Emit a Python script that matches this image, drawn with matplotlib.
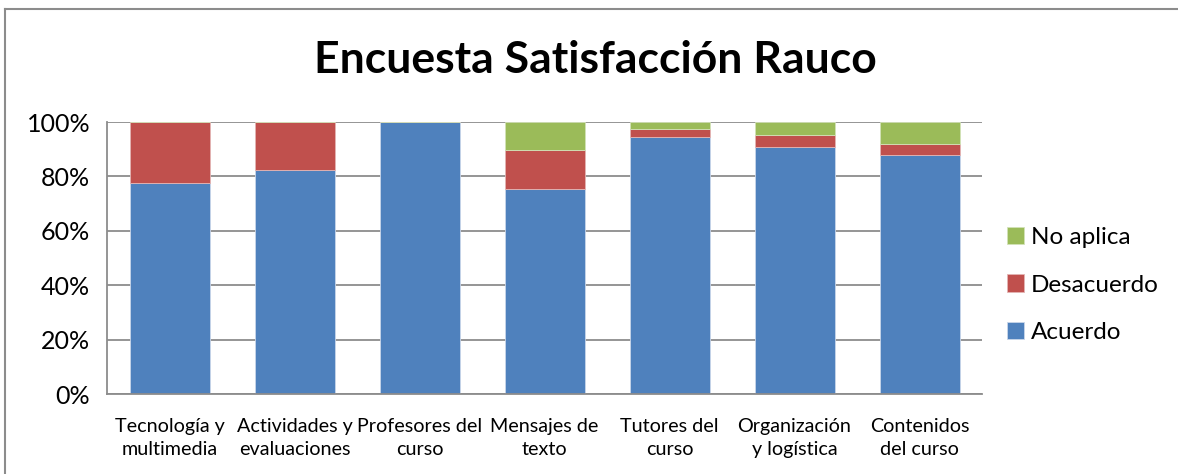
import matplotlib.pyplot as plt
import numpy as np
from matplotlib.lines import Line2D

categorias = ["Tecnología y\nmultimedia", "Actividades y\nevaluaciones", "Profesores del\ncurso",
              "Mensajes de\ntexto", "Tutores del\ncurso", "Organización\ny logística",
              "Contenidos\ndel curso"]
acuerdo = [77.5, 82.5, 100.0, 75.5, 94.5, 90.7, 88.0]
desacuerdo = [22.5, 17.5, 0.0, 14.2, 2.8, 4.6, 4.0]
no_aplica = [0.0, 0.0, 0.0, 10.3, 2.7, 4.7, 8.0]

plt.rcParams['font.family'] = ['Lato', 'DejaVu Sans']

fig = plt.figure(figsize=(11.78, 4.74), dpi=100)
ax = fig.add_axes([107 / 1178, 80 / 474, 875 / 1178, 272 / 474])

x = np.arange(len(categorias))
ancho = 0.64
b1 = ax.bar(x, acuerdo, ancho, color='#4F81BD', edgecolor='#C9D6EA', linewidth=0.6, label='Acuerdo', zorder=2)
b2 = ax.bar(x, desacuerdo, ancho, bottom=acuerdo, color='#C0504D', edgecolor='#E3B5B4', linewidth=0.6,
            label='Desacuerdo', zorder=2)
base = [a + d for a, d in zip(acuerdo, desacuerdo)]
b3 = ax.bar(x, no_aplica, ancho, bottom=base, color='#9BBB59', edgecolor='#D3E2B8', linewidth=0.6,
            label='No aplica', zorder=2)

ax.set_xlim(-0.5, len(categorias) - 0.5)
ax.set_ylim(0, 100)
ax.set_yticks(range(0, 101, 20))
ax.set_yticklabels([f"{v}%" for v in range(0, 101, 20)], fontsize=18)
ax.set_xticks(x)
ax.set_xticklabels(categorias, fontsize=14.2, linespacing=1.45, multialignment='center')
ax.tick_params(axis='y', length=0, pad=12)
ax.tick_params(axis='x', length=0, pad=17)
ax.grid(axis='y', color='#8C8C8C', linewidth=1.3, zorder=0)
for s in ['top', 'right']:
    ax.spines[s].set_visible(False)
for s in ['left', 'bottom']:
    ax.spines[s].set_color('#8C8C8C')
    ax.spines[s].set_linewidth(1.3)

fig.text(595 / 1178, 1 - 60 / 474, "Encuesta Satisfacción Rauco", ha='center', va='center',
         fontsize=32, fontweight='bold')

handles = [b3, b2, b1]
ax.legend(handles, [h.get_label() for h in handles], loc='center left',
          bbox_to_anchor=(985 / 1178, 1 - 285 / 474), bbox_transform=fig.transFigure,
          frameon=False, fontsize=17.5, handlelength=0.7, handleheight=0.7,
          handletextpad=0.3, labelspacing=1.1)

# borde del area del grafico
fig.add_artist(Line2D([5 / 1178, 5 / 1178], [0, 1 - 9 / 474], transform=fig.transFigure,
                      color='#8C8C8C', linewidth=1.5))
fig.add_artist(Line2D([5 / 1178, 1], [1 - 9 / 474, 1 - 9 / 474], transform=fig.transFigure,
                      color='#8C8C8C', linewidth=1.5))

fig.savefig('out.png', dpi=100)
